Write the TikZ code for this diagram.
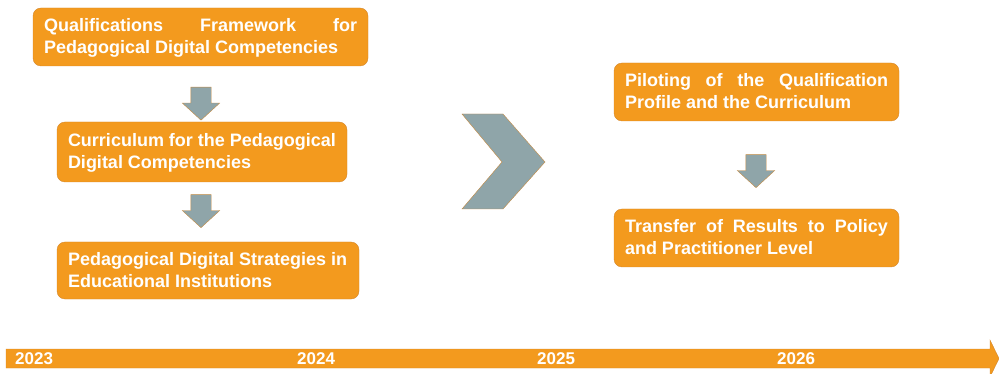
\documentclass[tikz,border=0pt]{standalone}
\usepackage{fontspec}
\setmainfont{Liberation Sans}
\usetikzlibrary{shapes.arrows}

\definecolor{boxorange}{RGB}{243,154,30}
\definecolor{boxedge}{RGB}{212,136,44}
\definecolor{arrowgray}{RGB}{143,165,169}
\definecolor{arrowedge}{RGB}{196,138,66}

\begin{document}
\begin{tikzpicture}[x=1pt, y=-1pt,
    phase/.style={draw=boxedge, fill=boxorange, rounded corners=8pt, text=white,
      font=\fontsize{18}{22}\selectfont\bfseries, align=justify,
      inner xsep=11pt, inner ysep=0pt, text height=13pt, text depth=23pt},
    downarrow/.style={single arrow, draw=arrowedge, fill=arrowgray, shape border rotate=270,
      minimum height=33pt, single arrow head extend=8.5pt,
      single arrow tip angle=95, inner sep=10pt},
    year/.style={text=white, font=\fontsize{17}{17}\selectfont\bfseries, anchor=base west, inner sep=0pt}]
    \useasboundingbox (0,0) rectangle (999,374);
    \tolerance=9999 \hyphenpenalty=10000
    % first period
    \node[phase, text width=313pt, minimum height=58pt] (qual) at (200.5,37)
      {Qualifications Framework for\linebreak Pedagogical Digital Competencies};
    \node[phase, text width=268pt, minimum height=60pt] (curr) at (202,152)
      {Curriculum for the Pedagogical\\ Digital Competencies};
    \node[phase, text width=280pt, minimum height=57pt] (strat) at (208,270.5)
      {Pedagogical Digital Strategies in\\ Educational Institutions};
    \node[downarrow] (a1) at (201,99) {};
    \node[downarrow] (a2) at (201,206.5) {};
    % chevron
    \draw [draw=arrowedge, fill=arrowgray] (462,114) -- (503,114) -- (545,162) -- (503,209)
      -- (462,209) -- (502,162) -- cycle;
    % second period
    \node[phase, text width=263pt, minimum height=58pt] (pilot) at (756.5,92)
      {Piloting of the Qualification\linebreak Profile and the Curriculum};
    \node[phase, text width=263pt, minimum height=58pt] (trans) at (756.5,238)
      {Transfer of Results to Policy\linebreak and Practitioner Level};
    \node[downarrow] (a3) at (756,166.5) {};
    % timeline
    \draw [draw=boxedge, fill=boxorange] (6,349) -- (990,349) -- (990,340) -- (999,358.5)
      -- (990,377) -- (990,368) -- (6,368) -- cycle;
    \node[year] (y1) at (15,364) {2023};
    \node[year] (y2) at (297,364) {2024};
    \node[year] (y3) at (537,364) {2025};
    \node[year] (y4) at (777,364) {2026};
  \end{tikzpicture}
\end{document}
